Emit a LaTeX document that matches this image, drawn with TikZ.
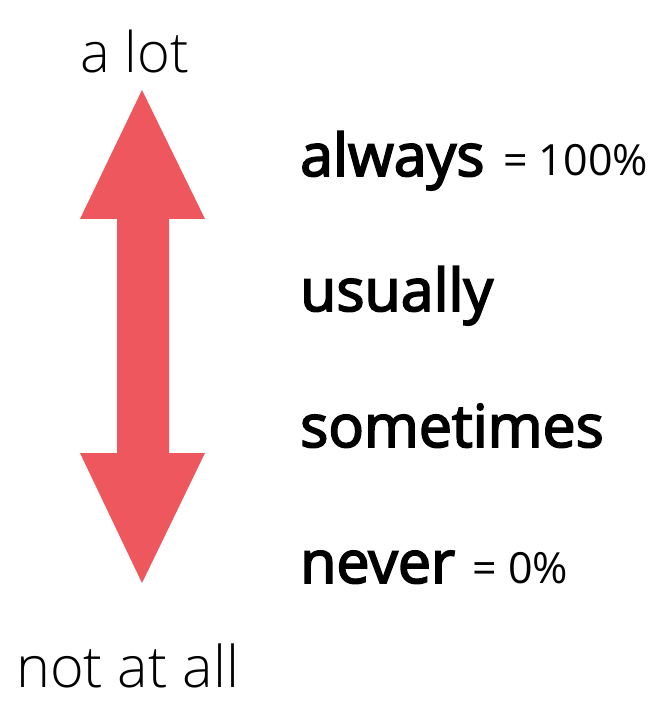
\documentclass[tikz,border=0pt]{standalone}
\usepackage{fontspec}
\setmainfont{Open Sans}[UprightFont=* Light]
\newfontfamily\plainfont{Open Sans}
\newfontfamily\semifont{Open Sans}[FakeBold=3]
\definecolor{arrowred}{RGB}{239,87,94}
\tikzset{end/.style={anchor=base, inner sep=0pt, font=\fontsize{56}{66}\selectfont},
         word/.style={anchor=base west, inner sep=0pt, font=\fontsize{59}{70}\selectfont\semifont},
         value/.style={anchor=base west, inner sep=0pt, font=\fontsize{43}{51}\selectfont\plainfont}}

\begin{document}
\begin{tikzpicture}[x=1pt, y=-1pt]
        \useasboundingbox (0,0) rectangle (666,719);

        \fill[arrowred] (142,90)--(205,219)--(169,219)--(169,453)--(205,453)
            --(142,583)--(80,453)--(117,453)--(117,219)--(80,219)--cycle;

        \node[end](lot)at(135,73){a lot};
        \node[end, anchor=base west, font=\fontsize{57.5}{67}\selectfont](none)at(16,687){not at all};

        \node[word](always)at(300,176){always};
        \node[value](full)at([xshift=7pt]always.base east){\ = 100\%};
        \node[word](usually)at(300,311){usually};
        \node[word](sometimes)at(300,447){sometimes};
        \node[word](never)at(300,583){never};
        \node[value](zero)at([xshift=6pt]never.base east){\ = 0\%};
    \end{tikzpicture}
\end{document}
